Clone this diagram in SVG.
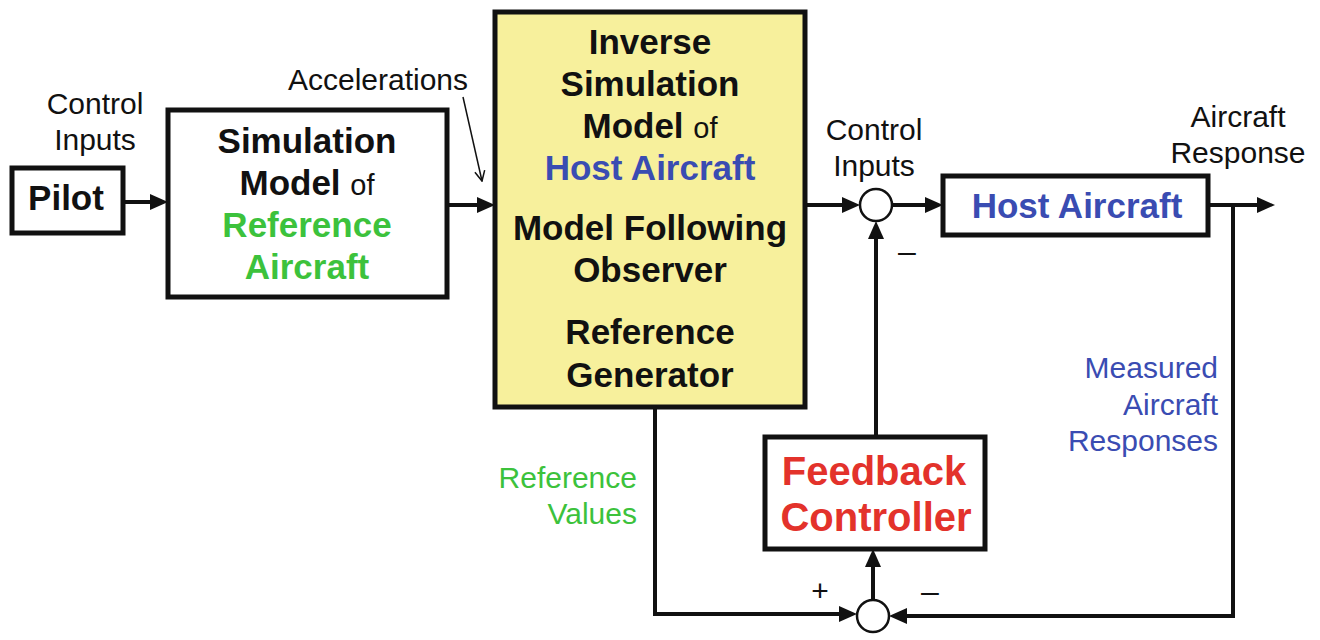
<svg xmlns="http://www.w3.org/2000/svg" width="1320" height="640" viewBox="0 0 1320 640">
<style>
text{font-family:"Liberation Sans",Arial,Helvetica,sans-serif;text-anchor:middle;fill:#111}
.b{font-weight:bold;font-size:35px}
.n{font-size:30px}
.of{font-weight:normal;font-size:29px}
.g{fill:#3cc23c}
.bl{fill:#3a4cb2}
.r{fill:#e3322b}
.box{fill:#fff;stroke:#111;stroke-width:5}
.line{fill:none;stroke:#111;stroke-width:4}
.thin{fill:none;stroke:#111;stroke-width:1.5}
.sum{fill:#fff;stroke:#111;stroke-width:2.5}
</style>
<defs>
<marker id="ah" markerUnits="userSpaceOnUse" markerWidth="18" markerHeight="16" viewBox="0 0 18 16" refX="9" refY="8" orient="auto">
<path d="M0,0 L18,8 L0,16 z" fill="#111"/>
</marker>
<marker id="ahv" markerUnits="userSpaceOnUse" markerWidth="12" markerHeight="12" viewBox="0 0 12 12" refX="11" refY="6" orient="auto">
<path d="M1,1 L11,6 L1,11" fill="none" stroke="#111" stroke-width="1.5"/>
</marker>
</defs>
<rect width="1320" height="640" fill="#fff"/>

<g id="connectors">
<line class="line" x1="123" y1="202" x2="159" y2="202" marker-end="url(#ah)"/>
<line class="line" x1="447" y1="205" x2="486" y2="205" marker-end="url(#ah)"/>
<line class="line" x1="805" y1="205" x2="851" y2="205" marker-end="url(#ah)"/>
<line class="line" x1="891" y1="205" x2="934" y2="205" marker-end="url(#ah)"/>
<line class="line" x1="1208" y1="205" x2="1266" y2="205" marker-end="url(#ah)"/>
<polyline class="line" points="1233,205 1233,616 898,616" marker-end="url(#ah)"/>
<polyline class="line" points="655,407 655,614 848,614" marker-end="url(#ah)"/>
<line class="line" x1="873" y1="600" x2="873" y2="558" marker-end="url(#ah)"/>
<line class="line" x1="876" y1="437" x2="876" y2="230" marker-end="url(#ah)"/>
<line class="thin" x1="463" y1="97" x2="482" y2="181" marker-end="url(#ahv)"/>
</g>

<g id="pilot">
<rect class="box" x="12" y="168" width="111" height="65"/>
<text class="b" x="66" y="210">Pilot</text>
</g>

<g id="sim-model">
<rect class="box" x="168" y="110" width="279" height="187"/>
<text class="b" x="307" y="153">Simulation</text>
<text class="b" x="307" y="195">Model <tspan class="of">of</tspan></text>
<text class="b g" x="307" y="237">Reference</text>
<text class="b g" x="307" y="279">Aircraft</text>
</g>

<g id="inverse-model">
<rect class="box" x="495" y="12" width="310" height="395" style="fill:#f7f09c"/>
<text class="b" x="650" y="54">Inverse</text>
<text class="b" x="650" y="96">Simulation</text>
<text class="b" x="650" y="138">Model <tspan class="of">of</tspan></text>
<text class="b bl" x="650" y="180">Host Aircraft</text>
<text class="b" x="650" y="240">Model Following</text>
<text class="b" x="650" y="282">Observer</text>
<text class="b" x="650" y="344">Reference</text>
<text class="b" x="650" y="387">Generator</text>
</g>

<g id="sum1">
<circle class="sum" cx="876" cy="205" r="16"/>
</g>

<g id="host-aircraft">
<rect class="box" x="943" y="176" width="265" height="59"/>
<text class="b bl" x="1077" y="218">Host Aircraft</text>
</g>

<g id="feedback-controller">
<rect class="box" x="765" y="437" width="220" height="112"/>
<text class="b r" x="874" y="485" style="font-size:40px">Feedback</text>
<text class="b r" x="876" y="531" style="font-size:40px">Controller</text>
</g>

<g id="sum2">
<circle class="sum" cx="873" cy="616" r="16"/>
</g>

<g id="labels">
<text class="n" x="95" y="114">Control</text>
<text class="n" x="95" y="150">Inputs</text>
<text class="n" x="378" y="90">Accelerations</text>
<text class="n" x="874" y="140">Control</text>
<text class="n" x="874" y="176">Inputs</text>
<text class="n" x="1238" y="127">Aircraft</text>
<text class="n" x="1238" y="163">Response</text>
<text class="n bl" x="1218" y="378" style="text-anchor:end">Measured</text>
<text class="n bl" x="1218" y="415" style="text-anchor:end">Aircraft</text>
<text class="n bl" x="1218" y="451" style="text-anchor:end">Responses</text>
<text class="n g" x="637" y="488" style="text-anchor:end">Reference</text>
<text class="n g" x="637" y="524" style="text-anchor:end">Values</text>
<text class="n" x="907" y="262" style="font-size:32px">–</text>
<text class="n" x="820" y="601">+</text>
<text class="n" x="930" y="602" style="font-size:32px">–</text>
</g>
</svg>
